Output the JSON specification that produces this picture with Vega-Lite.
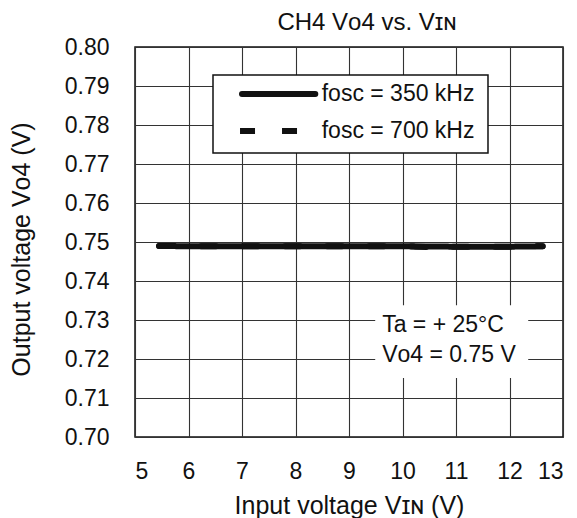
{
  "$schema": "https://vega.github.io/schema/vega-lite/v6.json",
  "width": 428,
  "height": 390,
  "autosize": {"type": "none"},
  "padding": {"left": 135, "top": 47, "right": 14, "bottom": 81},
  "background": "white",
  "config": {
    "font": "Liberation Sans",
    "view": {"stroke": "#111", "strokeWidth": 1.5},
    "axis": {
      "domain": false,
      "ticks": false,
      "grid": true,
      "gridColor": "#333",
      "gridWidth": 1.1,
      "gridOpacity": 1,
      "labelOverlap": false,
      "labelFont": "Liberation Sans",
      "labelFontSize": 23,
      "labelColor": "#111",
      "titleFont": "Liberation Sans",
      "titleFontSize": 25,
      "titleFontWeight": "normal",
      "titleColor": "#111"
    }
  },
  "title": {
    "text": "CH4 Vᴏ4 vs. Vɪɴ",
    "fontSize": 24,
    "fontWeight": "normal",
    "font": "Liberation Sans",
    "color": "#111",
    "anchor": "middle",
    "dx": 18,
    "offset": 1
  },
  "datasets": {
    "curves": [
      {"vin": 5.45, "vout": 0.7490, "series": "fosc = 350 kHz"},
      {"vin": 6.0, "vout": 0.7489, "series": "fosc = 350 kHz"},
      {"vin": 7.0, "vout": 0.7489, "series": "fosc = 350 kHz"},
      {"vin": 8.0, "vout": 0.7489, "series": "fosc = 350 kHz"},
      {"vin": 9.0, "vout": 0.7489, "series": "fosc = 350 kHz"},
      {"vin": 10.0, "vout": 0.7489, "series": "fosc = 350 kHz"},
      {"vin": 11.0, "vout": 0.7488, "series": "fosc = 350 kHz"},
      {"vin": 12.0, "vout": 0.7488, "series": "fosc = 350 kHz"},
      {"vin": 12.62, "vout": 0.7489, "series": "fosc = 350 kHz"},
      {"vin": 5.45, "vout": 0.7490, "series": "fosc = 700 kHz"},
      {"vin": 6.0, "vout": 0.7489, "series": "fosc = 700 kHz"},
      {"vin": 7.0, "vout": 0.7489, "series": "fosc = 700 kHz"},
      {"vin": 8.0, "vout": 0.7489, "series": "fosc = 700 kHz"},
      {"vin": 9.0, "vout": 0.7489, "series": "fosc = 700 kHz"},
      {"vin": 10.0, "vout": 0.7489, "series": "fosc = 700 kHz"},
      {"vin": 10.5, "vout": 0.7487, "series": "fosc = 700 kHz"},
      {"vin": 11.0, "vout": 0.7488, "series": "fosc = 700 kHz"},
      {"vin": 12.0, "vout": 0.7488, "series": "fosc = 700 kHz"},
      {"vin": 12.62, "vout": 0.7489, "series": "fosc = 700 kHz"}
    ],
    "notes": [
      {"label": "Ta = + 25°C", "vin": 9.62, "vout": 0.7287},
      {"label": "Vᴏ4 = 0.75 V", "vin": 9.62, "vout": 0.7210}
    ],
    "legendLabels": [
      {"label": "fosc = 350 kHz", "vin": 8.49, "vout": 0.78795},
      {"label": "fosc = 700 kHz", "vin": 8.49, "vout": 0.77846}
    ]
  },
  "layer": [
    {
      "data": {"name": "curves"},
      "mark": {"type": "line", "strokeWidth": 6, "color": "#111", "strokeCap": "round"},
      "encoding": {
        "x": {
          "field": "vin", "type": "quantitative",
          "scale": {"domain": [5, 13], "nice": false, "zero": false},
          "axis": {"values": [5, 6, 7, 8, 9, 10, 11, 12, 13], "tickCount": 20, "format": "d", "labelPadding": 23, "title": "Input voltage Vɪɴ (V)", "titlePadding": 10}
        },
        "y": {
          "field": "vout", "type": "quantitative",
          "scale": {"domain": [0.70, 0.80], "nice": false, "zero": false},
          "axis": {"values": [0.70, 0.71, 0.72, 0.73, 0.74, 0.75, 0.76, 0.77, 0.78, 0.79, 0.80], "tickCount": 20, "format": ".2f", "labelPadding": 26, "title": "Output voltage Vᴏ4 (V)", "titlePadding": 30, "titleY": 202}
        },
        "strokeDash": {
          "field": "series", "type": "nominal",
          "scale": {"domain": ["fosc = 350 kHz", "fosc = 700 kHz"], "range": [[1, 0], [15, 27]]},
          "legend": null
        }
      }
    },
    {
      "data": {"values": [{}]},
      "mark": {"type": "rect", "fill": "white"},
      "encoding": {
        "x": {"datum": 9.49, "type": "quantitative"},
        "x2": {"datum": 12.35},
        "y": {"datum": 0.7338, "type": "quantitative"},
        "y2": {"datum": 0.7151}
      }
    },
    {
      "data": {"name": "notes"},
      "mark": {"type": "text", "align": "left", "baseline": "middle", "fontSize": 23, "font": "Liberation Sans", "color": "#111"},
      "encoding": {
        "x": {"field": "vin", "type": "quantitative"},
        "y": {"field": "vout", "type": "quantitative"},
        "text": {"field": "label"}
      }
    },
    {
      "data": {"values": [{}]},
      "mark": {"type": "rect", "fill": "white", "stroke": "#111", "strokeWidth": 1.5},
      "encoding": {
        "x": {"datum": 6.458, "type": "quantitative"},
        "x2": {"datum": 11.598},
        "y": {"datum": 0.79282, "type": "quantitative"},
        "y2": {"datum": 0.77282}
      }
    },
    {
      "data": {"values": [{}]},
      "mark": {"type": "rule", "strokeWidth": 6, "color": "#111", "strokeCap": "round"},
      "encoding": {
        "x": {"datum": 7.0, "type": "quantitative"},
        "x2": {"datum": 8.37},
        "y": {"datum": 0.78795, "type": "quantitative"}
      }
    },
    {
      "data": {"values": [{}]},
      "mark": {"type": "rule", "strokeWidth": 6, "color": "#111", "strokeCap": "butt", "strokeDash": [15, 27]},
      "encoding": {
        "x": {"datum": 6.963, "type": "quantitative"},
        "x2": {"datum": 8.03},
        "y": {"datum": 0.77846, "type": "quantitative"}
      }
    },
    {
      "data": {"name": "legendLabels"},
      "mark": {"type": "text", "align": "left", "baseline": "middle", "fontSize": 23, "font": "Liberation Sans", "color": "#111"},
      "encoding": {
        "x": {"field": "vin", "type": "quantitative"},
        "y": {"field": "vout", "type": "quantitative"},
        "text": {"field": "label"}
      }
    }
  ]
}
